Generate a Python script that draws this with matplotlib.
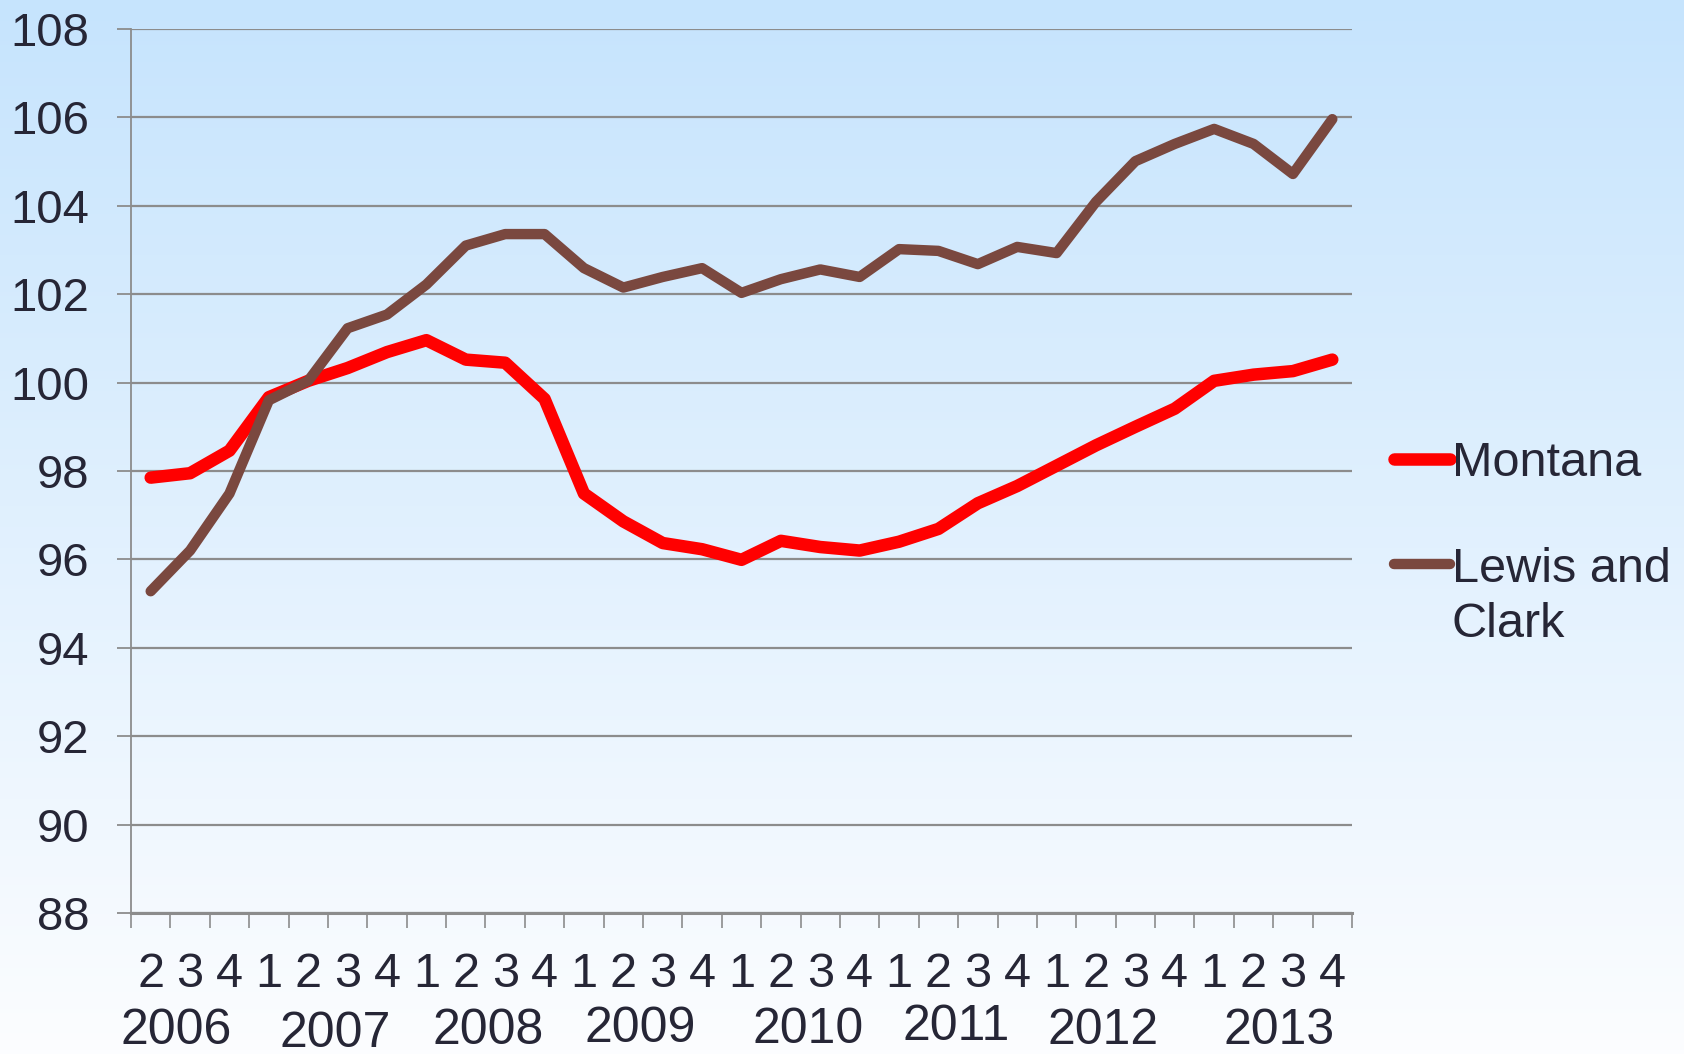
import numpy as np
import matplotlib
matplotlib.use("Agg")
import matplotlib.pyplot as plt
from matplotlib.lines import Line2D
from matplotlib.transforms import blended_transform_factory

# ---- data ----
quarters = ["2", "3", "4"] + ["1", "2", "3", "4"] * 7
years = ["2006", "2007", "2008", "2009", "2010", "2011", "2012", "2013"]
montana = [97.85, 97.95, 98.46, 99.67, 100.04, 100.33, 100.69, 100.96, 100.52, 100.45,
           99.63, 97.49, 96.86, 96.37, 96.23, 95.99, 96.42, 96.28, 96.20, 96.40,
           96.69, 97.27, 97.66, 98.12, 98.58, 99.00, 99.41, 100.04, 100.18, 100.26, 100.52]
lewis_clark = [95.28, 96.20, 97.49, 99.60, 100.04, 101.23, 101.54, 102.22, 103.10, 103.36,
               103.36, 102.59, 102.15, 102.39, 102.59, 102.03, 102.34, 102.56, 102.39, 103.02,
               102.98, 102.68, 103.07, 102.93, 104.09, 105.01, 105.40, 105.74, 105.40, 104.72, 105.96]
series_names = ["Montana", "Lewis and\nClark"]
yticks = list(range(88, 109, 2))

# ---- layout constants ----
year_label_x = [0.65, 4.69, 8.56, 12.43, 16.70, 20.46, 24.17, 28.64]
year_label_y = [-0.133, -0.137, -0.134, -0.131, -0.132, -0.129, -0.134, -0.134]

text_color = "#262636"
grid_color = "#8C8C8C"
red = "#FF0000"
brown = "#7A483F"
font = "Liberation Sans"
plt.rcParams["font.family"] = [font, "DejaVu Sans"]

W, H = 1684, 1054
fig = plt.figure(figsize=(W / 100, H / 100), dpi=100)

# gradient background
bg = fig.add_axes([0, 0, 1, 1], zorder=-10)
top = np.array([198, 228, 253]) / 255.0
bot = np.array([252, 253, 255]) / 255.0
t = np.linspace(0, 1, 256)[:, None]
grad = top[None, :] * (1 - t) + bot[None, :] * t
grad = np.repeat(grad[:, None, :], 2, axis=1)
bg.imshow(grad, aspect="auto", extent=[0, 1, 0, 1], origin="upper")
bg.set_axis_off()

left, right = 131 / W, 1352 / W
bottom, topy = 1 - 913 / H, 1 - 29 / H
ax = fig.add_axes([left, bottom, right - left, topy - bottom])
ax.patch.set_alpha(0)

x = np.arange(len(montana))
l1, = ax.plot(x, montana, color=red, lw=9, solid_capstyle="round",
              solid_joinstyle="round", zorder=3, label=series_names[0])
l2, = ax.plot(x, lewis_clark, color=brown, lw=7.5, solid_capstyle="round",
              solid_joinstyle="round", zorder=3, label=series_names[1])

ax.set_xlim(-0.5, len(montana) - 0.5)
ax.set_ylim(88, 108)
ax.set_yticks(yticks)
ax.set_yticklabels([str(v) for v in yticks])
ax.yaxis.grid(True, color=grid_color, lw=1.6)
ax.set_axisbelow(True)

for s in ["top", "right"]:
    ax.spines[s].set_visible(False)
ax.spines["left"].set_color(grid_color)
ax.spines["left"].set_linewidth(1.3)
ax.spines["bottom"].set_color(grid_color)
ax.spines["bottom"].set_linewidth(2.2)

ax.set_xticks(np.arange(-0.5, len(montana), 1.0))
ax.set_xticklabels([])
ax.set_xticks(x, minor=True)
ax.set_xticklabels(quarters, minor=True)
ax.tick_params(axis="x", which="major", length=11, width=1.2, color=grid_color, direction="out")
ax.tick_params(axis="x", which="minor", length=0, pad=28, labelsize=35, labelcolor=text_color)
ax.tick_params(axis="y", length=10, width=1.3, color=grid_color, pad=20,
               labelsize=34, labelcolor=text_color)

trans = blended_transform_factory(ax.transData, ax.transAxes)
for yr, xp, yp in zip(years, year_label_x, year_label_y):
    ax.text(xp, yp, yr, transform=trans, ha="center", va="center",
            fontsize=36, color=text_color)

# legend (drawn manually so the handle aligns with the first label line)
def fy(px):
    return 1 - px / H

handle_x0, handle_x1, text_x = 1394 / W, 1450 / W, 1452 / W
entries = [(red, 9, 458.6, [(series_names[0], 476)]),
           (brown, 7.5, 563.9, [("Lewis and", 581.6), ("Clark", 637.4)])]
for color, lw, hy, lines in entries:
    fig.add_artist(Line2D([handle_x0, handle_x1], [fy(hy), fy(hy)], color=color, lw=lw,
                          solid_capstyle="round", transform=fig.transFigure))
    for txt, base in lines:
        fig.text(text_x, fy(base), txt, ha="left", va="baseline", fontsize=35,
                 color=text_color)

fig.savefig("out.png", dpi=100)
